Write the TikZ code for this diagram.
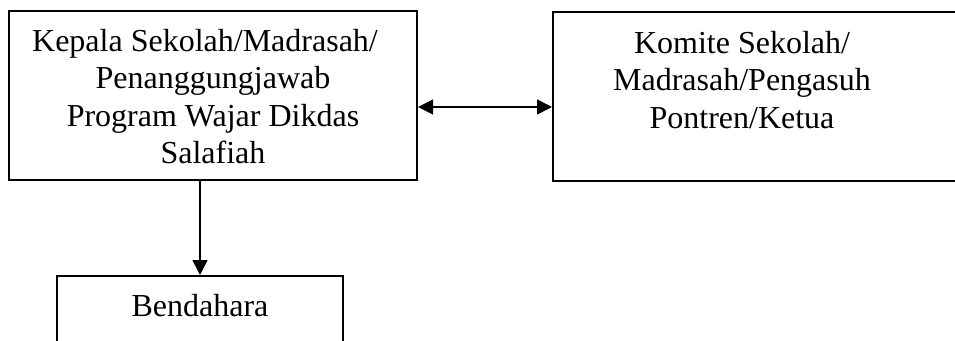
\documentclass[tikz,border=0pt]{standalone}
\usepackage{fontspec}
\setmainfont{Liberation Serif}
\usetikzlibrary{arrows.meta}
\begin{document}
\begin{tikzpicture}[x=1pt,y=-1pt,
  box/.style={draw, line width=2.3pt, inner sep=0pt},
  txt/.style={inner sep=0pt, align=center, font=\fontsize{32}{37.5}\selectfont, anchor=north},
  link/.style={line width=1.6pt, -{Triangle[length=15pt,width=15pt]}},
  dlink/.style={line width=1.6pt, {Triangle[length=15pt,width=15pt]}-{Triangle[length=15pt,width=15pt]}}]
\useasboundingbox (0,0) rectangle (955,340);
\node[box, minimum width=408pt, minimum height=169pt] (kepala) at (213,95.5) {};
\node[box, minimum width=423pt, minimum height=169pt, anchor=north west] (komite) at (552,11) {};
\node[box, minimum width=286pt, minimum height=120pt, anchor=north] (bendahara) at (200,275) {};
\node[txt] (kepalatext) at (213,29) {Kepala Sekolah/Madrasah/\hspace*{16pt}\\Penanggungjawab\\Program Wajar Dikdas\\Salafiah};
\node[txt] (komitetext) at (742,31) {Komite Sekolah/\\Madrasah/Pengasuh\\Pontren/Ketua};
\node[txt] (bendaharatext) at (200,294) {Bendahara};
\coordinate (arrowy) at (0,107);
\draw[dlink] (kepala.east |- arrowy) -- (komite.west |- arrowy);
\draw[link] (kepala.south -| bendahara.north) -- (bendahara.north);
\end{tikzpicture}
\end{document}
